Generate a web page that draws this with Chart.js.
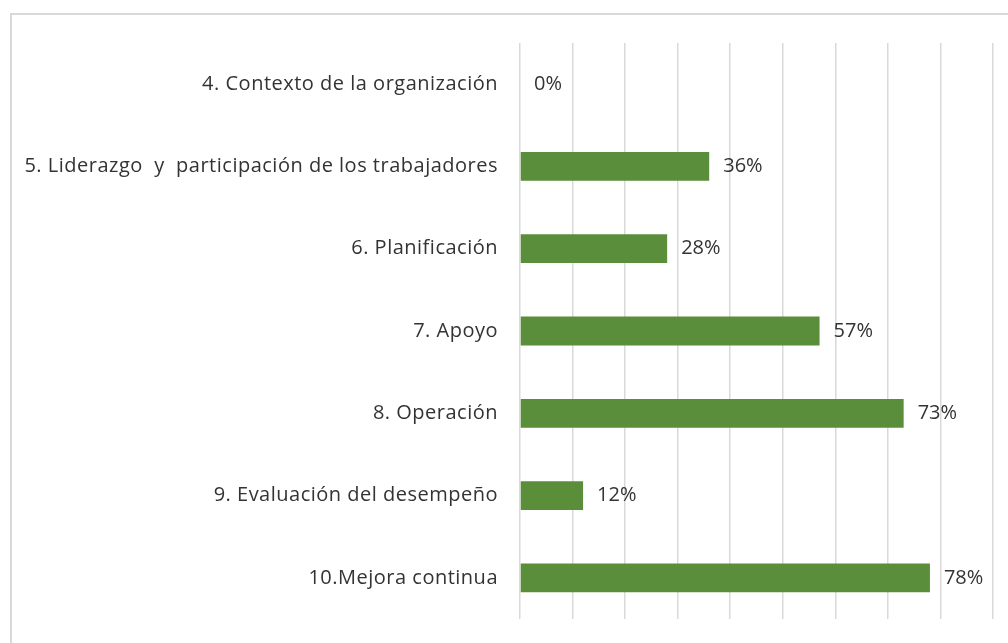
<!DOCTYPE html>
<html>
<head>
<meta charset="utf-8">
<script src="https://cdn.jsdelivr.net/npm/chart.js@4"></script>
<style>
  html, body { margin: 0; padding: 0; background: #fff; }
  #frame {
    position: absolute; left: 10px; top: 13px; width: 1100px; height: 700px;
    border-left: 2px solid #d9d9d9; border-top: 2px solid #d9d9d9;
  }
  #wrap { position: absolute; left: 0; top: 0; width: 1008px; height: 643px; }
</style>
</head>
<body>
<div id="frame"></div>
<div id="wrap"><canvas id="barChart"></canvas></div>
<script>
const categories = [
  '4. Contexto de la organización',
  '5. Liderazgo  y  participación de los trabajadores',
  '6. Planificación',
  '7. Apoyo',
  '8. Operación',
  '9. Evaluación del desempeño',
  '10.Mejora continua'
];
const values = [0, 0.36, 0.28, 0.57, 0.73, 0.12, 0.78];
const axisTicks = [0, 0.9, 0.1]; // min, max, step

const BAR_GREEN = '#5b8e3a';
const TEXT_COLOR = '#333333';
const FONT = { family: '"Open Sans", Lato, sans-serif', size: 20 };

// texto un poco más ancho, como en el original
const wideText = {
  id: 'wideText',
  beforeDraw(chart) { chart.ctx.letterSpacing = '0.5px'; }
};

// etiquetas de valor al final de cada barra
const valueLabels = {
  id: 'valueLabels',
  afterDatasetsDraw(chart) {
    const ctx = chart.ctx;
    const meta = chart.getDatasetMeta(0);
    ctx.save();
    ctx.font = FONT.size + 'px ' + FONT.family;
    ctx.letterSpacing = '0px';
    ctx.fillStyle = TEXT_COLOR;
    ctx.textAlign = 'left';
    ctx.textBaseline = 'middle';
    meta.data.forEach((bar, i) => {
      ctx.fillText(Math.round(values[i] * 100) + '%', bar.x + 14, bar.y);
    });
    ctx.restore();
  }
};

new Chart(document.getElementById('barChart').getContext('2d'), {
  type: 'bar',
  data: {
    labels: categories,
    datasets: [{
      data: values,
      backgroundColor: BAR_GREEN,
      borderWidth: 0,
      categoryPercentage: 1,
      barPercentage: 0.35
    }]
  },
  options: {
    indexAxis: 'y',
    responsive: true,
    maintainAspectRatio: false,
    animation: false,
    layout: { padding: { top: 43, bottom: 24, right: 15, left: 0 } },
    plugins: { legend: { display: false }, tooltip: { enabled: false } },
    scales: {
      x: {
        min: axisTicks[0], max: axisTicks[1],
        ticks: { stepSize: axisTicks[2], display: false },
        grid: { color: '#d9d9d9', lineWidth: 1.5, drawTicks: false },
        border: { display: false },
        afterFit(scale) { scale.height = 0; }
      },
      y: {
        grid: { display: false, drawTicks: false },
        border: { display: false },
        ticks: { color: TEXT_COLOR, font: FONT, padding: 22, autoSkip: false },
        afterFit(scale) {
          scale.width = 520;
          scale.paddingTop = 0;
          scale.paddingBottom = 0;
        }
      }
    }
  },
  plugins: [wideText, valueLabels]
});
</script>
</body>
</html>
